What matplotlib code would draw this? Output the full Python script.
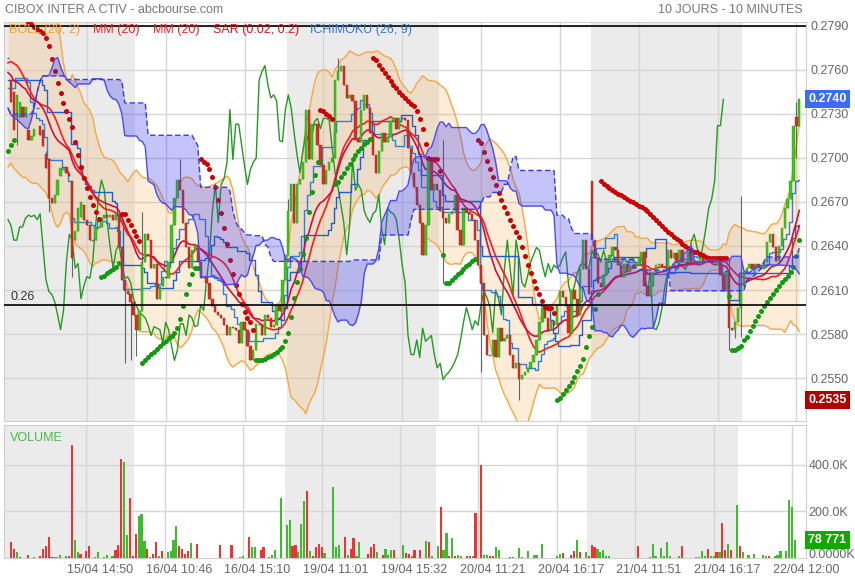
import matplotlib.pyplot as plt
import matplotlib.transforms as mtransforms
import numpy as np
import pandas as pd

plt.rcParams['font.family'] = ['Liberation Sans', 'DejaVu Sans']

# cours 10 minutes, 15/04 -> 22/04 (272 barres)
closes = [
    .2768, .2738, .2719, .2743, .2738, .2728, .2735, .2712, .2715, .2720,
    .2734, .2716, .2708, .2693, .2673, .2669, .2675, .2685, .2693, .2694,
    .2690, .2688, .2632, .2650, .2666, .2670, .2658, .2654, .2644, .2644,
    .2653, .2653, .2659, .2661, .2660, .2661, .2658, .2662, .2639, .2617,
    .2609, .2607, .2602, .2593, .2583, .2596, .2629, .2648, .2644, .2625,
    .2628, .2604, .2613, .2619, .2618, .2629, .2654, .2673, .2685, .2678,
    .2656, .2639, .2625, .2637, .2641, .2629, .2618, .2619, .2615, .2604,
    .2599, .2595, .2593, .2591, .2586, .2579, .2585, .2584, .2583, .2574,
    .2588, .2583, .2572, .2562, .2569, .2587, .2587, .2579, .2593, .2591,
    .2585, .2586, .2600, .2596, .2617, .2634, .2664, .2682, .2656, .2682,
    .2686, .2697, .2733, .2699, .2723, .2723, .2709, .2695, .2682, .2692,
    .2697, .2700, .2753, .2759, .2763, .2750, .2741, .2743, .2739, .2712,
    .2711, .2733, .2743, .2734, .2717, .2702, .2690, .2705, .2717, .2711,
    .2714, .2725, .2727, .2720, .2727, .2727, .2726, .2707, .2690, .2680,
    .2668, .2656, .2634, .2654, .2699, .2678, .2682, .2678, .2664, .2659,
    .2656, .2662, .2664, .2675, .2651, .2641, .2666, .2663, .2662, .2658,
    .2644, .2627, .2615, .2579, .2566, .2566, .2576, .2564, .2584, .2575,
    .2577, .2579, .2566, .2557, .2560, .2549, .2552, .2554, .2557, .2561,
    .2566, .2576, .2588, .2598, .2591, .2583, .2589, .2586, .2600, .2609,
    .2605, .2599, .2581, .2610, .2604, .2593, .2624, .2644, .2624, .2607,
    .2644, .2632, .2615, .2612, .2620, .2629, .2634, .2639, .2637, .2627,
    .2619, .2628, .2622, .2627, .2625, .2627, .2632, .2636, .2613, .2606,
    .2613, .2622, .2627, .2628, .2626, .2625, .2637, .2632, .2635, .2629,
    .2637, .2629, .2629, .2636, .2629, .2630, .2628, .2632, .2629, .2630,
    .2632, .2628, .2627, .2632, .2620, .2609, .2622, .2584, .2583, .2588,
    .2598, .2613, .2622, .2625, .2628, .2624, .2628, .2626, .2624, .2629,
    .2643, .2648, .2639, .2630, .2640, .2652, .2666, .2672, .2684, .2722,
    .2722, .2740]

opens = [
    .2768, .2753, .2745, .2728, .2728, .2735, .2728, .2719, .2712, .2715,
    .2734, .2722, .2719, .2703, .2699, .2673, .2669, .2675, .2688, .2694,
    .2694, .2690, .2684, .2644, .2650, .2660, .2668, .2658, .2654, .2644,
    .2644, .2653, .2653, .2659, .2661, .2660, .2661, .2658, .2662, .2639,
    .2617, .2609, .2607, .2602, .2593, .2583, .2596, .2629, .2648, .2644,
    .2625, .2628, .2604, .2613, .2619, .2618, .2629, .2654, .2673, .2685,
    .2678, .2656, .2639, .2625, .2637, .2641, .2629, .2618, .2619, .2615,
    .2604, .2599, .2595, .2593, .2591, .2586, .2579, .2585, .2584, .2583,
    .2574, .2588, .2583, .2572, .2562, .2569, .2587, .2587, .2579, .2593,
    .2591, .2585, .2586, .2600, .2596, .2617, .2634, .2664, .2682, .2656,
    .2682, .2686, .2697, .2733, .2699, .2723, .2723, .2709, .2695, .2682,
    .2692, .2697, .2700, .2753, .2759, .2763, .2750, .2741, .2743, .2739,
    .2712, .2711, .2733, .2743, .2734, .2717, .2702, .2690, .2705, .2717,
    .2711, .2714, .2725, .2727, .2720, .2727, .2727, .2726, .2707, .2690,
    .2680, .2668, .2656, .2634, .2654, .2699, .2678, .2682, .2678, .2664,
    .2659, .2656, .2662, .2664, .2675, .2651, .2641, .2666, .2663, .2662,
    .2658, .2644, .2627, .2615, .2579, .2566, .2566, .2576, .2564, .2584,
    .2575, .2577, .2579, .2566, .2557, .2560, .2549, .2552, .2554, .2557,
    .2561, .2566, .2576, .2588, .2598, .2591, .2583, .2589, .2586, .2600,
    .2609, .2605, .2599, .2581, .2610, .2604, .2593, .2624, .2644, .2624,
    .2684, .2644, .2632, .2615, .2612, .2620, .2629, .2634, .2639, .2637,
    .2627, .2619, .2628, .2622, .2627, .2625, .2627, .2632, .2636, .2613,
    .2606, .2613, .2622, .2627, .2628, .2626, .2625, .2637, .2632, .2635,
    .2629, .2637, .2629, .2629, .2636, .2629, .2630, .2628, .2632, .2629,
    .2630, .2632, .2628, .2627, .2632, .2620, .2609, .2622, .2584, .2583,
    .2588, .2598, .2613, .2622, .2625, .2628, .2624, .2628, .2626, .2624,
    .2629, .2643, .2648, .2639, .2630, .2640, .2652, .2666, .2672, .2684,
    .2728, .2722]

# meches visibles (plus haut / plus bas)
wick_high = {13: .2705, 46: .2663, 59: .2699, 96: .2672, 113: .2768, 149: .2712,
             247: .2632, 251: .2674, 270: .2738}
wick_low = {3: .2709, 14: .2663, 22: .2619, 40: .2560, 42: .2562, 44: .2565,
            149: .2615, 162: .2554, 175: .2535, 247: .2569, 249: .2577, 251: .2578,
            270: .2700}

# cloture des barres avant la fenetre (estimee d'apres le depart des indicateurs)
prior_close = [
    .2740, .2745, .2750, .2748, .2755, .2752, .2760, .2758, .2750, .2745,
    .2738, .2730, .2722, .2715, .2708, .2700, .2705, .2712, .2708, .2702,
    .2700, .2720, .2745, .2770, .2790, .2805, .2812, .2805, .2798, .2790,
    .2775, .2750, .2725, .2705, .2695, .2720, .2750, .2780, .2800, .2795]

volume_k = [
    0, 69, 39, 26, 3, 0, 0, 11, 0, 4,
    0, 7, 39, 50, 90, 3, 3, 4, 13, 0,
    10, 10, 486, 76, 24, 17, 0, 29, 50, 0,
    3, 24, 0, 4, 14, 0, 7, 33, 54, 426,
    414, 100, 257, 7, 104, 179, 190, 71, 39, 4,
    17, 69, 10, 29, 0, 24, 29, 79, 139, 53,
    39, 17, 31, 64, 0, 61, 1, 0, 0, 0,
    0, 1, 0, 57, 0, 1, 0, 57, 0, 0,
    4, 7, 0, 90, 46, 49, 0, 33, 49, 0,
    4, 11, 36, 0, 257, 0, 143, 161, 50, 54,
    24, 147, 243, 286, 29, 7, 47, 60, 47, 21,
    0, 1, 303, 46, 54, 0, 90, 11, 40, 87,
    7, 69, 1, 0, 19, 49, 61, 24, 0, 11,
    40, 14, 36, 36, 0, 1, 54, 21, 16, 10,
    36, 0, 36, 0, 71, 69, 7, 0, 50, 217,
    36, 107, 10, 86, 10, 14, 7, 0, 10, 10,
    7, 193, 0, 400, 14, 11, 7, 7, 46, 36,
    0, 1, 0, 4, 4, 0, 43, 4, 0, 29,
    0, 14, 14, 0, 61, 0, 0, 0, 0, 7,
    17, 20, 0, 0, 14, 29, 79, 27, 0, 26,
    7, 56, 46, 40, 24, 34, 7, 7, 2, 2,
    2, 0, 2, 0, 0, 0, 2, 53, 0, 0,
    0, 4, 60, 7, 0, 43, 7, 69, 7, 0,
    0, 10, 50, 0, 2, 2, 2, 4, 4, 31,
    7, 39, 7, 10, 26, 27, 150, 36, 61, 36,
    0, 229, 53, 24, 0, 14, 0, 17, 0, 0,
    11, 10, 10, 0, 7, 14, 29, 0, 31, 247,
    219, 78.771]

volume_dir = ("GRRGRGGRGG" "GRRRRRGGGG" "GRRGGRGRRG" "GGGGGGGRRR" "GGRRRGGGRG"
              "RRGRGGGGGR" "RRRGGRGGGG" "GRGRGGGRGG" "GGGRGGGRRG" "GGGGGGGGRR"
              "GGGRGRRRRG" "GGGGGGRGRR" "GGRGRRRGGR" "GGGRGGGRRG" "RGRGGRGGGR"
              "GGRGRGGGRR" "GRGRGGRRGG" "GRGRGGGGGG" "GGGGGGGGGG" "GRGGRRGRGG"
              "RRRGGGGGRR" "RGGGGGRRGG" "GGGGGGGGGG" "GGRGRRRGGG" "GRGGRGRRGR"
              "GGRGGGGGGG" "GGRGGGGGGG" "GG")

day_starts = [0, 44, 96, 148, 200, 252]
grid_bars = [27, 54, 81, 108, 135, 162, 189, 216, 243, 270]
grid_labels = ["15/04 14:50", "16/04 10:46", "16/04 15:10", "19/04 11:01", "19/04 15:32",
               "20/04 11:21", "20/04 16:17", "21/04 11:51", "21/04 16:17", "22/04 12:00"]
price_ticks = [0.2550, 0.2580, 0.2610, 0.2640, 0.2670, 0.2700, 0.2730, 0.2760, 0.2790]
last_price = 0.2740
low_price = 0.2535
last_volume = "78 771"

o = np.array(opens)
c = np.array(closes)
n = len(c)
x = np.arange(n)
hi = np.array([max(o[i], c[i], wick_high.get(i, 0)) for i in range(n)])
lo = np.array([min(o[i], c[i], wick_low.get(i, 1)) for i in range(n)])

# indicateurs calcules sur l'historique complet
n0 = len(prior_close)
fc = pd.Series(prior_close + list(c))
fh = pd.Series(prior_close + list(hi))
fl = pd.Series(prior_close + list(lo))
mid = fc.rolling(20, min_periods=1).mean()
sd = fc.rolling(20, min_periods=1).std(ddof=0)
bb_up = (mid + 2 * sd).values[n0:]
bb_dn = (mid - 2 * sd).values[n0:]
mm1 = mid.values[n0:]
mm2 = fc.ewm(span=20, adjust=False).mean().values[n0:]
tenkan = (fh.rolling(9, min_periods=1).max() + fl.rolling(9, min_periods=1).min()) / 2
kijun = (fh.rolling(26, min_periods=1).max() + fl.rolling(26, min_periods=1).min()) / 2
span_a = ((tenkan + kijun) / 2).shift(26).values[n0:]
span_b = ((fh.rolling(52, min_periods=1).max() + fl.rolling(52, min_periods=1).min()) / 2).shift(26).values[n0:]
tenkan = tenkan.values[n0:]
kijun = kijun.values[n0:]


def psar(h, l, step=0.02, amax=0.2):
    sar = np.zeros(len(h))
    bull = np.zeros(len(h), bool)
    up, af, ep = True, step, h[0]
    sar[0] = l[0]
    for i in range(1, len(h)):
        s = sar[i - 1] + af * (ep - sar[i - 1])
        if up:
            s = min(s, l[i - 1], l[max(i - 2, 0)])
            if l[i] < s:
                up, s, ep, af = False, ep, l[i], step
            elif h[i] > ep:
                ep, af = h[i], min(af + step, amax)
        else:
            s = max(s, h[i - 1], h[max(i - 2, 0)])
            if h[i] > s:
                up, s, ep, af = True, ep, h[i], step
            elif l[i] < ep:
                ep, af = l[i], min(af + step, amax)
        sar[i] = s
        bull[i] = up
    return sar, bull


sar, bull = psar(fh.values, fl.values)
sar, bull = sar[n0:], bull[n0:]

W, H = 855, 580
fig = plt.figure(figsize=(W / 100, H / 100), dpi=100)
ax = fig.add_axes([4 / W, 1 - 421 / H, 802 / W, 399 / H])
axv = fig.add_axes([4 / W, 1 - 558 / H, 802 / W, 133 / H])
xl = (-1.37, 273.3)

for a in (ax, axv):
    a.set_xlim(*xl)
    for k in range(0, len(day_starts), 2):
        end = day_starts[k + 1] - 0.5 if k + 1 < len(day_starts) else xl[1]
        a.axvspan(max(day_starts[k] - 0.5, xl[0]) if k else xl[0], end, color='#ebebeb', zorder=0, lw=0)
    for g in grid_bars:
        a.axvline(g, color='#d6d6d6', lw=1, zorder=0.5)
    for s in a.spines.values():
        s.set_color('#d0d0d0')
    a.tick_params(length=0, colors='#666666', labelsize=9)
    a.yaxis.tick_right()

# prix
ax.set_ylim(0.25207, 0.27927)
ax.set_yticks(price_ticks)
ax.set_yticklabels(['%.4f' % t for t in price_ticks])
ax.tick_params(axis='y', pad=3)
ax.set_xticks([])
for t in price_ticks:
    ax.axhline(t, color='#d6d6d6', lw=1, zorder=0.5)

ax.fill_between(x, bb_dn, bb_up, color='#f7a440', alpha=0.2, lw=0, zorder=1)
ax.plot(x, bb_up, color='#f5a742', lw=1, zorder=2)
ax.plot(x, bb_dn, color='#f5a742', lw=1, zorder=2)
ax.plot(x[:-26], c[26:], color='#239a23', lw=1, zorder=3)
ax.plot(x, tenkan, color='#2f80d8', lw=1, drawstyle='steps-mid', zorder=3)
ax.plot(x, kijun, color='#1f5fc8', lw=1, drawstyle='steps-mid', zorder=3)
ax.plot(x, mm1, color='#ff1a1a', lw=1.2, zorder=3)
ax.plot(x, mm2, color='#cc1040', lw=1.2, zorder=3)

# bougies
ax.vlines(x, lo, hi, color='#666666', lw=0.8, zorder=4)
body = np.abs(c - o)
doji = body < 0.00002
up = (c >= o) & ~doji
dn = (c < o) & ~doji
ax.bar(x[up], body[up], bottom=o[up], width=0.8, color='#3ec41e', edgecolor='#2c9a14', lw=0.3, zorder=4.5)
ax.bar(x[dn], body[dn], bottom=c[dn], width=0.8, color='#d03323', edgecolor='#a82416', lw=0.3, zorder=4.5)
ax.hlines(c[doji], x[doji] - 0.5, x[doji] + 0.5, color='#666666', lw=1, zorder=4.5)

# SAR
ax.plot(x[~bull], sar[~bull], 'o', color='#cc0000', ms=3.6, mec='none', zorder=5)
ax.plot(x[bull], sar[bull], 'o', color='#119911', ms=3.6, mec='none', zorder=5)

# nuage ichimoku
ax.fill_between(x, span_a, span_b, color='#3c3cf0', alpha=0.3, lw=0, zorder=6)
ax.plot(x, span_a, color='#4a4af5', lw=1, zorder=7)
ax.plot(x, span_b, color='#3a3ae8', lw=1, ls=(0, (4, 2)), zorder=7)

ax.axhline(0.2790, color='black', lw=1.2, zorder=8)
ax.axhline(0.26, color='black', lw=1.2, zorder=8)
tr = mtransforms.blended_transform_factory(ax.transAxes, ax.transData)
ax.text(0.0075, 0.2601, '0.26', transform=tr, fontsize=9, color='#333333', va='bottom', zorder=9)

ax.text(1.003, last_price, '%.4f' % last_price, transform=tr, ha='left', va='center', color='white',
        fontsize=9, fontweight='bold', zorder=10,
        bbox=dict(boxstyle='square,pad=0.25', fc='#3b6cf5', ec='none'))
ax.text(1.003, low_price, '%.4f' % low_price, transform=tr, ha='left', va='center', color='white',
        fontsize=9, fontweight='bold', zorder=10,
        bbox=dict(boxstyle='square,pad=0.25', fc='#b00000', ec='none'))

# volume
vol = np.array(volume_k)
vcol = ['#3fbb2e' if d == 'G' else '#ee3333' for d in volume_dir]
axv.bar(x, vol, width=0.75, color=vcol, lw=0, zorder=3)
axv.set_ylim(0, 571)
axv.set_yticks([200, 400])
axv.set_yticklabels(['200.0K', '400.0K'])
axv.tick_params(axis='y', pad=2)
for t in (200, 400):
    axv.axhline(t, color='#d6d6d6', lw=1, zorder=0.5)
trv = mtransforms.blended_transform_factory(axv.transAxes, axv.transData)
axv.text(1.0025, 13, '0.0000K', transform=trv, ha='left', va='center', color='#666666', fontsize=9)
axv.set_xticks([g + 4.8 for g in grid_bars])
axv.set_xticklabels(grid_labels)
axv.tick_params(axis='x', pad=4)
axv.text(0.008, 0.95, 'VOLUME', transform=axv.transAxes, color='#44bb44', fontsize=9, va='top')
axv.text(1.003, vol[-1], last_volume, transform=trv, ha='left', va='center', color='white',
         fontsize=9, fontweight='bold', zorder=10,
         bbox=dict(boxstyle='square,pad=0.25', fc='#11a800', ec='none'))

# titres et legende
fig.text(5 / W, 1 - 10 / H, 'CIBOX INTER A CTIV - abcbourse.com', fontsize=9, color='#777777', va='center')
fig.text(803 / W, 1 - 10 / H, '10 JOURS - 10 MINUTES', fontsize=9, color='#777777', va='center', ha='right')
legend = [('BOLL (20, 2)', 9, '#f5a030'), ('MM (20)', 93, '#ee2222'), ('MM (20)', 153, '#ee2222'),
          ('SAR (0.02, 0.2)', 213, '#dd1111'), ('ICHIMOKU (26, 9)', 310, '#3377cc')]
for txt, px, col in legend:
    fig.text(px / W, 1 - 30 / H, txt, fontsize=9, color=col, va='center')

fig.savefig('out.png', dpi=100)
